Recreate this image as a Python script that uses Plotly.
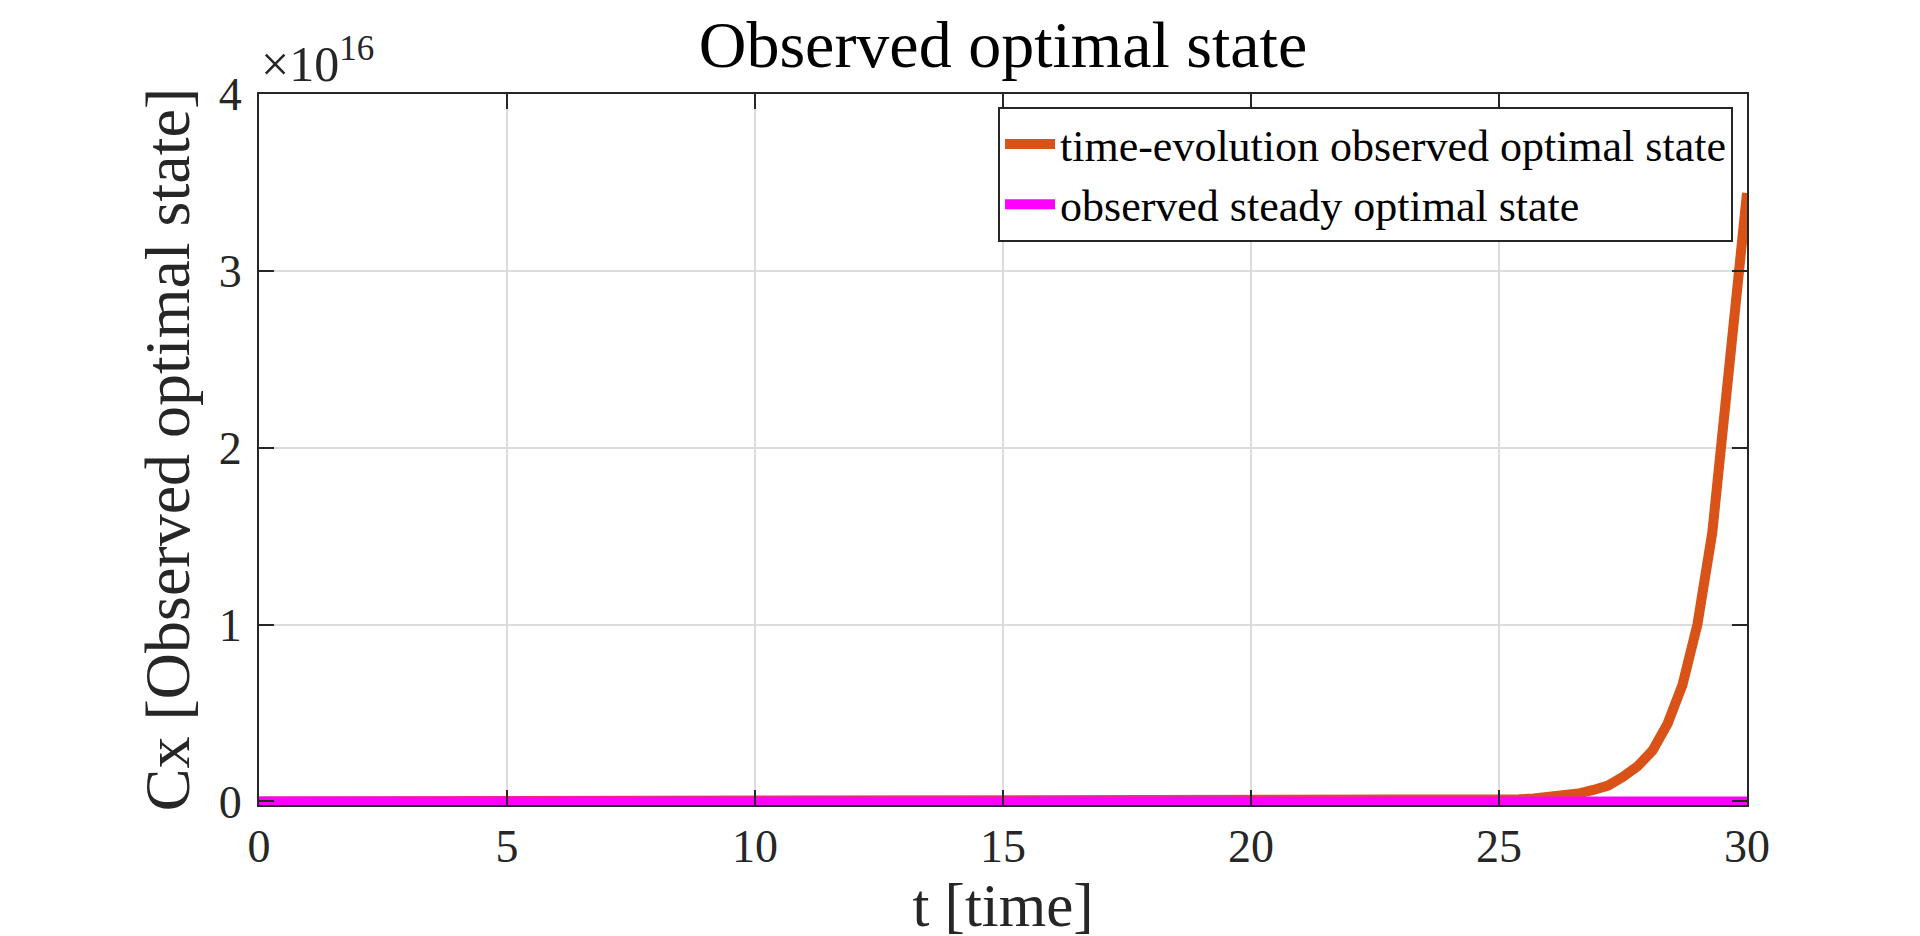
import plotly.graph_objects as go

# time samples and observed optimal state values (x 1e16)
t_evolution = [0, 5, 10, 15, 20, 22, 23, 24, 24.5, 24.8, 25.1, 25.4, 25.7, 26.0, 26.3,
               26.6, 26.9, 27.2, 27.5, 27.8, 28.1, 28.4, 28.7, 29.0, 29.3, 29.6, 30.0]
cx_evolution = [0, 0, 0, 0, 0.00002, 0.0002, 0.0007, 0.0022, 0.004, 0.006, 0.008, 0.012,
                0.017, 0.024, 0.032, 0.045, 0.065, 0.09, 0.14, 0.2, 0.29, 0.44, 0.66,
                1.0, 1.52, 2.33, 3.44]

t_steady = [0, 30]
cx_steady = [0, 0]

scale = 1e16
y_ticks = [0, 1, 2, 3, 4]
x_ticks = [0, 5, 10, 15, 20, 25, 30]

font_family = "Liberation Serif"
axis_color = "#262626"

fig = go.Figure()

fig.add_trace(go.Scatter(
    x=t_evolution,
    y=[v * scale for v in cx_evolution],
    mode="lines",
    line=dict(color="#D95319", width=10),
    name="time-evolution observed optimal state",
))

fig.add_trace(go.Scatter(
    x=t_steady,
    y=[v * scale for v in cx_steady],
    mode="lines",
    line=dict(color="#FF00FF", width=10),
    name="observed steady optimal state",
))

axis_common = dict(
    showline=True,
    linecolor=axis_color,
    linewidth=2,
    mirror="allticks",
    ticks="inside",
    ticklen=15,
    tickwidth=2,
    tickcolor=axis_color,
    showgrid=True,
    gridcolor="#dcdcdc",
    gridwidth=1.5,
    zeroline=False,
    tickfont=dict(family=font_family, size=46, color=axis_color),
)

fig.update_layout(
    width=1920,
    height=936,
    paper_bgcolor="white",
    plot_bgcolor="white",
    margin=dict(l=251, r=181, t=86, b=139),
    title=dict(
        text="Observed optimal state",
        font=dict(family=font_family, size=66, color="black"),
        x=0.5,
        xref="paper",
        xanchor="center",
        y=0.962,
        yref="container",
        yanchor="middle",
    ),
    xaxis=dict(
        range=[0, 30],
        tickvals=x_ticks,
        ticklabelstandoff=0,
        title=dict(text="t [time]", font=dict(family=font_family, size=61, color=axis_color),
                   standoff=0),
        **axis_common,
    ),
    yaxis=dict(
        # slight negative floor so the thick zero line is not half clipped
        range=[-0.02 * scale, 4 * scale],
        tickvals=[v * scale for v in y_ticks],
        ticktext=[str(v) for v in y_ticks],
        ticklabelstandoff=6,
        title=dict(text="Cx [Observed optimal state]",
                   font=dict(family=font_family, size=64, color=axis_color), standoff=8),
        **axis_common,
    ),
    legend=dict(
        x=0.9906,
        y=0.9817,
        xanchor="right",
        yanchor="top",
        bgcolor="white",
        bordercolor=axis_color,
        borderwidth=2,
        font=dict(family=font_family, size=44, color="black"),
        itemwidth=50,
        tracegroupgap=0,
    ),
    showlegend=True,
)

# exponent label like MATLAB's axis multiplier
fig.add_annotation(
    text="\u00d710<sup>16</sup>",
    xref="paper", yref="paper",
    x=0, y=1,
    xanchor="left", yanchor="bottom",
    showarrow=False,
    font=dict(family=font_family, size=50, color=axis_color),
)

fig.write_html("out.html")
